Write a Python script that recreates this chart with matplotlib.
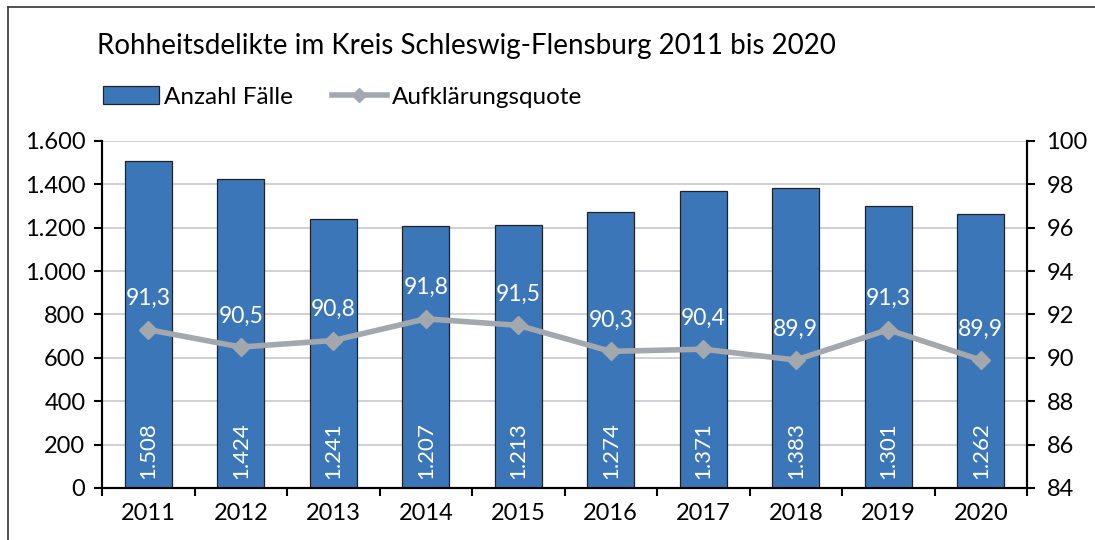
import matplotlib
matplotlib.use("Agg")
import matplotlib.pyplot as plt
from matplotlib.lines import Line2D
from matplotlib.patches import Patch

years = ["2011", "2012", "2013", "2014", "2015", "2016", "2017", "2018", "2019", "2020"]
faelle = [1508, 1424, 1241, 1207, 1213, 1274, 1371, 1383, 1301, 1262]
quote = [91.3, 90.5, 90.8, 91.8, 91.5, 90.3, 90.4, 89.9, 91.3, 89.9]

bar_col = "#3B76B8"
line_col = "#A3A8AE"

plt.rcParams["font.family"] = ["Lato", "DejaVu Sans"]

fig = plt.figure(figsize=(10.95, 5.4), dpi=100)
ax = fig.add_axes([0.0932, 0.0963, 0.8447, 0.6426])
ax2 = ax.twinx()

x = list(range(len(years)))
ax.bar(x, faelle, width=0.51, color=bar_col, edgecolor="#222222", linewidth=0.9, zorder=3)
for xi, v in zip(x, faelle):
    s = f"{v:,}".replace(",", ".")
    ax.text(xi, 40, s, rotation=90, ha="center", va="bottom", color="white", fontsize=16, zorder=4)

ax.set_ylim(0, 1600)
ax.set_yticks(range(0, 1601, 200))
ax.set_yticklabels([f"{v:,}".replace(",", ".") for v in range(0, 1601, 200)], fontsize=17)
ax.set_xlim(-0.5, len(years) - 0.5)
ax.set_xticks(x)
ax.set_xticklabels(years, fontsize=17)
ax.tick_params(axis="x", length=0, pad=11)
ax.set_xticks([i - 0.5 for i in range(len(years) + 1)], minor=True)
ax.tick_params(axis="x", which="minor", length=6, width=1.5, direction="out")
ax.tick_params(axis="y", length=6, width=1.5, direction="out", pad=6)
ax.grid(axis="y", color="#C6C8CC", linewidth=1.2, zorder=0)
ax.set_axisbelow(True)

ax2.plot(x, quote, color=line_col, linewidth=4, marker="D", markersize=9, zorder=5)
for xi, q in zip(x, quote):
    ax2.text(xi, q + 0.95, f"{q:.1f}".replace(".", ","), ha="center", va="bottom", color="white", fontsize=16.5, zorder=6)
ax2.set_ylim(84, 100)
ax2.set_yticks(range(84, 101, 2))
ax2.set_yticklabels([str(v) for v in range(84, 101, 2)], fontsize=17)
ax2.tick_params(axis="y", length=6, width=1.5, direction="out", pad=8)

for a in (ax, ax2):
    a.spines["top"].set_visible(False)
    for s in ("left", "right", "bottom"):
        a.spines[s].set_linewidth(1.5)
        a.spines[s].set_color("black")

fig.text(97 / 1095, 1 - 46 / 540, "Rohheitsdelikte im Kreis Schleswig-Flensburg 2011 bis 2020",
         fontsize=20, va="center", ha="left")

handles = [Patch(facecolor=bar_col, edgecolor="#222222", linewidth=0.9),
           Line2D([0], [0], color=line_col, linewidth=4, marker="D", markersize=7)]
fig.legend(handles, ["Anzahl Fälle", "Aufklärungsquote"], loc="center left",
           bbox_to_anchor=(103 / 1095, 1 - 97 / 540), ncol=2, frameon=False, fontsize=17.5,
           handlelength=2.3, handletextpad=0.2, columnspacing=1.6, borderaxespad=0, borderpad=0)

# frame lines of the original picture
fig.add_artist(Line2D([8 / 1095, 8 / 1095], [0, 1 - 7 / 540], color="#333333", linewidth=1.2))
fig.add_artist(Line2D([8 / 1095, 1], [1 - 7 / 540, 1 - 7 / 540], color="#333333", linewidth=1.2))

fig.savefig("out.png", dpi=100)
